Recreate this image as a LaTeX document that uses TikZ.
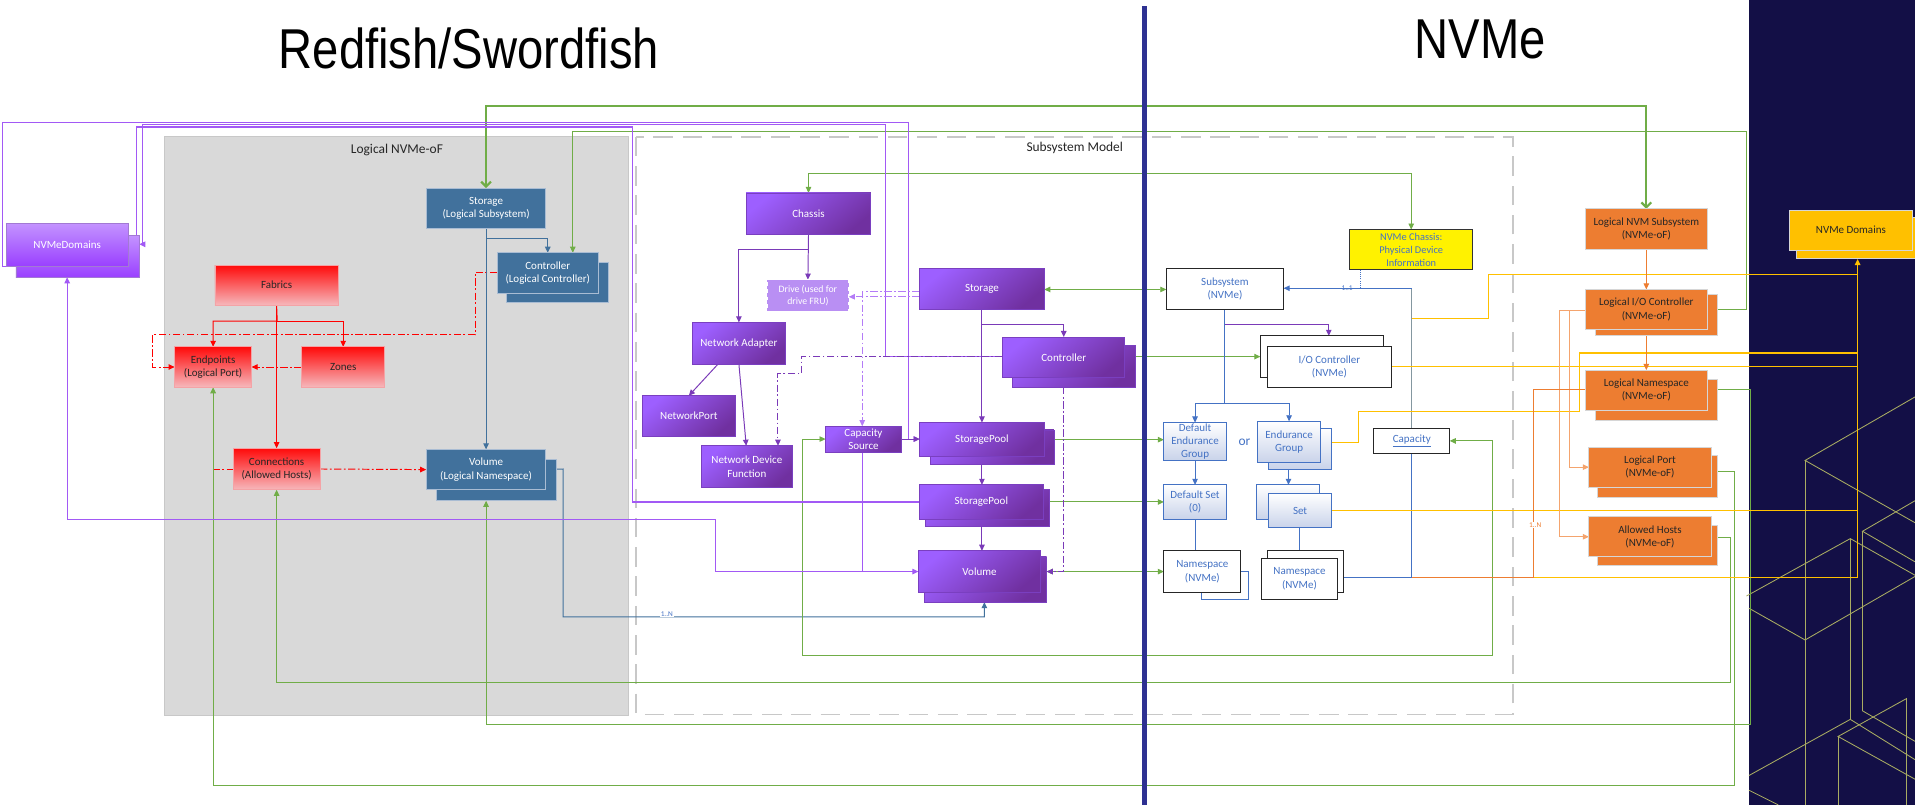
\documentclass[tikz,border=0pt]{standalone}
\usepackage{fontspec}
\setmainfont{Carlito}
\newfontfamily\titlefont{Liberation Sans}
\usetikzlibrary{arrows.meta,calc}
\definecolor{rbblue}{HTML}{41719C}
\definecolor{rbedge}{HTML}{A9BCD3}
\definecolor{redtop}{HTML}{FF0A0A}
\definecolor{redbot}{HTML}{F6B8BC}
\definecolor{rededge}{HTML}{F4A3A6}
\definecolor{plight}{HTML}{9D5FFF}
\definecolor{pdark}{HTML}{7030A0}
\definecolor{pedge}{HTML}{7A3FC0}
\definecolor{ndlight}{HTML}{C393FF}
\definecolor{nddark}{HTML}{9A40FF}
\definecolor{drivef}{HTML}{B98FF3}
\definecolor{nvtext}{HTML}{4472C4}
\definecolor{lbfill}{HTML}{C9D3EA}
\definecolor{orng}{HTML}{ED7D31}
\definecolor{oredge}{HTML}{D6D6D6}
\definecolor{gold}{HTML}{FFC000}
\definecolor{grn}{HTML}{70AD47}
\definecolor{navy}{HTML}{130F46}
\definecolor{divider}{HTML}{2E3192}
\definecolor{wire}{HTML}{A9AC62}
\definecolor{pbright}{HTML}{A259F5}
\definecolor{plline}{HTML}{7A3AB8}
\definecolor{pldd}{HTML}{B47CF7}
\definecolor{orlight}{HTML}{F4A46E}
\definecolor{grayl}{HTML}{8497A0}
\definecolor{panelgray}{HTML}{D9D9D9}
\definecolor{dashgray}{HTML}{C8C8C8}
\pgfdeclarelayer{bg}
\pgfdeclarelayer{lines}
\pgfsetlayers{bg,lines,main}
% #1 style, #2 name, #3 x1, #4 y1, #5 x2, #6 y2, #7 text
\newcommand\bx[7]{\node[#1, minimum width={(#5-#3)*1pt}, minimum height={(#6-#4)*1pt}] (#2) at ({(#3+#5)/2},{(#4+#6)/2}) {#7};}
\tikzset{
  box/.style={inner sep=0pt, outer sep=0pt, align=center, font=\fontsize{9}{11}\selectfont},
  bluebox/.style={box, fill=rbblue, draw=rbedge, line width=0.8pt, text=white},
  redbox/.style={box, draw=rededge, line width=0.6pt, top color=redtop, bottom color=redbot, text=black!85},
  purplebox/.style={box, draw=pedge, line width=0.6pt, top color=plight, bottom color=pdark, shading angle=40, text=white},
  ndbox/.style={box, draw=pedge!70, line width=0.6pt, top color=ndlight, bottom color=nddark, text=white},
  drivebox/.style={box, fill=drivef, draw=white, dashed, line width=0.6pt, text=white, font=\fontsize{8}{10}\selectfont},
  nvbox/.style={box, fill=white, draw=black!85, line width=0.8pt, text=nvtext},
  nvback/.style={box, fill=white, draw=nvtext, line width=0.8pt},
  lbbox/.style={box, draw=nvtext, line width=0.8pt, top color=white, bottom color=lbfill, text=nvtext},
  orbox/.style={box, fill=orng, draw=oredge, line width=0.8pt, text=black!85},
  goldbox/.style={box, fill=gold, draw=oredge, line width=0.8pt, text=black!85},
  ylbox/.style={box, fill=yellow, draw=black!80, line width=0.8pt, text=nvtext, font=\fontsize{8.5}{10.5}\selectfont},
  lab/.style={inner sep=0.5pt, font=\fontsize{6}{7}\selectfont},
  dd/.style={dash pattern=on 6pt off 2pt on 1.5pt off 2pt},
  cRed/.style={draw=red, line width=0.8pt},
  cBlue/.style={draw=rbblue, line width=0.8pt},
  cNv/.style={draw=nvtext, line width=0.8pt},
  cGrn/.style={draw=grn, line width=0.8pt},
  cGrnThick/.style={draw=grn, line width=1.8pt},
  cPB/.style={draw=pbright, line width=0.9pt},
  cPL/.style={draw=plline, line width=0.8pt},
  cPLite/.style={draw=pldd, line width=0.8pt},
  cGold/.style={draw=gold, line width=0.9pt},
  cOr/.style={draw=orng, line width=0.8pt},
  cOrL/.style={draw=orlight, line width=0.8pt},
  cGray/.style={draw=grayl, line width=0.9pt},
  cWire/.style={draw=wire, line width=0.7pt},
  barbs/.style={{Straight Barb[length=4pt,width=8pt]}-{Straight Barb[length=4pt,width=8pt]}}
}
\begin{document}
\begin{tikzpicture}[x=1pt,y=-1pt,>={Triangle[length=5pt,width=4.5pt]}]
\useasboundingbox (0,0) rectangle (1568,659);
\begin{pgfonlayer}{bg}
  \fill[white] (0,0) rectangle (1568,659);
  \fill[navy] (1432,0) rectangle (1568,659);
  \filldraw[fill=panelgray, draw=dashgray, line width=0.8pt] (135,112) rectangle (515,586);
  \draw[dashgray, line width=1.4pt, dash pattern=on 16pt off 8pt] (521,112) rectangle (1239,585);
  % wireframe cubes
  \draw[cWire] (1568,325) -- (1478,377) -- (1568,428);
  \draw[cWire] (1478,377) -- (1478,659);
  \draw[cWire] (1430,488) -- (1515,441) -- (1568,471);
  \draw[cWire] (1515,441) -- (1515,589);
  \draw[cWire] (1432,498) -- (1478,524) -- (1568,472);
  \draw[cWire] (1568,410) -- (1525,435) -- (1568,460);
  \draw[cWire] (1525,435) -- (1525,582) -- (1568,607);
  \draw[cWire] (1432,635) -- (1515,589) -- (1568,622);
  \draw[cWire] (1568,638) -- (1505,603) -- (1561,572) -- (1561,659);
  \draw[cWire] (1505,603) -- (1505,659);
  \draw[cWire] (1432,647) -- (1456,659);
\end{pgfonlayer}

% titles and labels
\node[anchor=base, inner sep=0] (t1) at (384,56) {\titlefont\fontsize{46}{50}\selectfont\scalebox{0.84}[1]{Redfish/Swordfish}};
\node[anchor=base, inner sep=0] (t2) at (1212,48) {\titlefont\fontsize{46}{50}\selectfont\scalebox{0.84}[1]{NVMe}};
\node[font=\fontsize{11}{13}\selectfont, text=black!85] (lnvmeof) at (325,123) {Logical NVMe-oF};
\node[font=\fontsize{11}{13}\selectfont, text=black!85] (lsubm) at (880,121) {Subsystem Model};

% ---------- Redfish side nodes ----------
\bx{ndbox}{ndomB}{13}{193}{114}{227}{}
\bx{ndbox}{ndom}{5}{183}{105}{218}{NVMeDomains}
\bx{bluebox}{rstor}{349}{154}{447}{187}{Storage\\(Logical Subsystem)}
\bx{bluebox}{rctrlB}{415}{215}{498}{248}{}
\bx{bluebox}{rctrl}{407}{207}{490}{240}{Controller\\(Logical Controller)}
\bx{bluebox}{rvolB}{357}{376}{456}{410}{}
\bx{bluebox}{rvol}{349}{368}{447}{401}{Volume\\(Logical Namespace)}
\bx{redbox}{fabrics}{176}{217}{277}{250}{Fabrics}
\bx{redbox}{endpoints}{143}{284}{206}{317}{Endpoints\\(Logical Port)}
\bx{redbox}{zones}{247}{284}{315}{317}{Zones}
\bx{redbox}{connections}{191}{367}{262}{401}{Connections\\(Allowed Hosts)}

% ---------- Subsystem model nodes ----------
\bx{purplebox}{chassis}{611}{158}{713}{192}{Chassis}
\bx{drivebox}{drive}{628}{229}{695}{255}{Drive (used for\\drive FRU)}
\bx{purplebox}{pstor}{753}{220}{855}{253}{Storage}
\bx{purplebox}{netad}{567}{264}{643}{298}{Network Adapter}
\bx{purplebox}{pctrlB}{829}{283}{930}{317}{}
\bx{purplebox}{pctrl}{821}{276}{921}{309}{Controller}
\bx{purplebox}{netport}{526}{324}{602}{357}{NetworkPort}
\bx{purplebox}{ndf}{574}{365}{649}{399}{Network Device\\Function}
\bx{purplebox}{capsrc}{676}{349}{738}{370}{Capacity\\Source}
\bx{purplebox}{spool1B}{762}{352}{863}{380}{}
\bx{purplebox}{spool1}{753}{346}{855}{374}{StoragePool}
\bx{purplebox}{spool2B}{758}{401}{859}{431}{}
\bx{purplebox}{spool2}{753}{397}{854}{425}{StoragePool}
\bx{purplebox}{pvolB}{757}{456}{857}{493}{}
\bx{purplebox}{pvol}{752}{451}{852}{485}{Volume}

% ---------- NVMe nodes ----------
\bx{ylbox}{nvchassis}{1105}{188}{1206}{221}{NVMe Chassis:\\Physical Device\\Information}
\bx{nvbox}{subsys}{955}{220}{1051}{253}{Subsystem\\(NVMe)}
\bx{nvbox}{iocB}{1032}{275}{1133}{309}{}
\bx{nvbox}{ioc}{1038}{284}{1139}{317}{I/O Controller\\(NVMe)}
\bx{lbbox}{deg}{953}{346}{1004}{377}{Default\\Endurance\\Group}
\node[text=nvtext, font=\fontsize{11}{13}\selectfont] (ortxt) at (1019,362) {or};
\bx{lbbox}{egB}{1039}{351}{1090}{384}{}
\bx{lbbox}{eg}{1030}{345}{1081}{379}{Endurance\\Group}
\bx{lbbox}{dset}{953}{397}{1004}{425}{Default Set\\(0)}
\bx{lbbox}{setB}{1029}{397}{1080}{425}{}
\bx{lbbox}{set}{1039}{404}{1090}{432}{Set}
\bx{nvback}{nslB}{984}{468}{1022}{491}{}
\bx{nvbox}{nsl}{953}{451}{1016}{485}{Namespace\\(NVMe)}
\bx{nvbox}{nsrB}{1038}{451}{1100}{485}{}
\bx{nvbox}{nsr}{1033}{457}{1095}{491}{Namespace\\(NVMe)}
\bx{nvbox}{capacity}{1125}{351}{1187}{371}{\underline{Capacity}}

% ---------- NVMe-oF nodes ----------
\bx{orbox}{lnvm}{1298}{171}{1398}{204}{Logical NVM Subsystem\\(NVMe-oF)}
\bx{orbox}{lioB}{1306}{241}{1406}{275}{}
\bx{orbox}{lio}{1298}{237}{1398}{270}{Logical I/O Controller\\(NVMe-oF)}
\bx{orbox}{lnsB}{1306}{311}{1406}{344}{}
\bx{orbox}{lns}{1298}{303}{1398}{336}{Logical Namespace\\(NVMe-oF)}
\bx{orbox}{lportB}{1308}{373}{1406}{407}{}
\bx{orbox}{lport}{1301}{366}{1401}{399}{Logical Port\\(NVMe-oF)}
\bx{orbox}{ahB}{1308}{430}{1406}{463}{}
\bx{orbox}{ah}{1301}{423}{1401}{456}{Allowed Hosts\\(NVMe-oF)}
\bx{goldbox}{ndomsB}{1471}{178}{1574}{212}{}
\bx{goldbox}{ndoms}{1465}{172}{1566}{205}{NVMe Domains}

\begin{pgfonlayer}{lines}
  % red
  \draw[cRed,->] (fabrics.south) -- (connections.north);
  \draw[cRed,->] (fabrics.south) -- (227,263) -| (endpoints.north);
  \draw[cRed,->] (227,263) -| (zones.north);
  \draw[cRed,dd,->] (zones.west) -- (endpoints.east);
  \draw[cRed,dd,->] (rctrl.west |- 0,223) -- (389,223) -- (389,274) -- (125,274) -- (125,300.5) -- (endpoints.west);
  \draw[cRed,dd,->] (connections.east) -- (rvol.west);
  \draw[cRed,dd] (174,384) -- (connections.west);
  % blue (redfish)
  \draw[cBlue,->] (rstor.south) -- (rvol.north);
  \draw[cBlue,->] (rstor.south) -- (398,195) -| (rctrl.north);
  \draw[cBlue,->] (rvol.east) -- (461,384) -- (461,505) -- (806,505) -- (pvolB.south -| 806,0);
  \node[lab, text=nvtext, fill=white] (l1n) at (546,503) {1..N};
  % green
  \draw[cGrnThick,barbs] (rstor.north) -- (398,87) -| (lnvm.north);
  \draw[cGrn,->] (lioB.east |- 0,253) -- (1430,253) -- (1430,108) -- (469,108) -- (rctrl.north -| 469,0);
  \draw[cGrn,<->] (chassis.north) -- (662,142) -| (nvchassis.north);
  \draw[cGrn,<->] (pstor.east |- 0,237) -- (subsys.west |- 0,237);
  \draw[cGrn,<->] (pctrl.east |- 0,292) -- (iocB.west |- 0,292);
  \draw[cGrn,<->] (spool1.east |- 0,360) -- (deg.west |- 0,360);
  \draw[cGrn,<->] (spool2.east |- 0,411) -- (dset.west |- 0,411);
  \draw[cGrn,<->] (pvolB.east |- 0,468) -- (nsl.west |- 0,468);
  \draw[cGrn,<->] (capsrc.west) -- (657,359.5) -- (657,537) -- (1222,537) |- (capacity.east);
  \draw[cGrn,->] (ahB.east |- 0,440) -- (1417,440) -- (1417,559) -| (connections.south);
  \draw[cGrn,->] (lnsB.east |- 0,319) -- (1433,319) -- (1433,593) -| (rvolB.south -| rvol.south);
  \draw[cGrn,->] (lportB.east |- 0,386) -- (1420,386) -- (1420,643) -| (endpoints.south);
  % bright purple from NVMeDomains
  \draw[cPB,->] (ndom.south west) -- (2,218) -- (2,100) -- (744,100) -- (744,359.5) -- (spool1.west |- 0,359.5);
  \draw[cPB,<-] (ndomB.east |- 0,200) -- (117,200) -- (117,102) -- (725,102) -- (725,292) -- (pctrl.west |- 0,292);
  \draw[cPB] (ndomB.east |- 0,200) -- (112,200) -- (112,104) -- (518,104) -- (518,411) -- (spool2.west |- 0,411);
  \draw[cPB,<->] (ndomB.south -| 55,0) -- (55,425) -- (586,425) -- (586,468) -- (pvol.west |- 0,468);
  % subsystem model purple
  \draw[cPL,->] (chassis.south) -- (drive.north);
  \draw[cPL,->] (chassis.south) -- (662,204) -| (netad.north);
  \draw[cPL,->] (netad.south -| 588,0) -- (netport.north -| 564,0);
  \draw[cPL,->] (netad.south) -- (ndf.north -| 611,0);
  \draw[cPL,->] (pstor.south) -- (spool1.north);
  \draw[cPL,->] (pstor.south) -- (804,266) -| (pctrl.north);
  \draw[cPL,->] (spool1B.south -| 804,0) -- (spool2.north -| 804,0);
  \draw[cPL,->] (spool2B.south -| 804,0) -- (pvol.north -| 804,0);
  \draw[cPL,->] (capsrc.east) -- (spool1.west |- capsrc.east);
  \draw[cPB] (capsrc.south -| 706,0) -- (706,468);
  \draw[cPL,dd,->] (pctrl.west |- 0,292) -- (656,292) -- (656,306) -- (637,306) -- (ndf.north -| 637,0);
  \draw[cPL,dd,->] (pctrlB.south -| 871,0) -- (871,468) -- (pvolB.east |- 0,468);
  \draw[cPLite,dd,->] (pstor.west |- 0,243) -- (drive.east |- 0,243);
  \draw[cPLite,dd,->] (pstor.west |- 0,239) -- (706,239) -- (capsrc.north -| 706,0);
  % NVMe side
  \draw[cGray] (capacity.north -| 1156,0) -- (1156,236);
  \draw[cNv,->] (1156,236) -- (subsys.east |- 0,236);
  \node[lab, text=nvtext] (l11) at (1103,236) {1..1};
  \draw[cNv,densely dotted,->] (1114,236) -- (1114,204) -- (nvchassis.west |- 0,204);
  \draw[cNv,->] (capacity.south -| 1156,0) -- (1156,473) -- (nsr.east |- 0,473);
  \draw[cPL,->] (subsys.south) -- (1003,266) -- (1088,266) -- (iocB.north -| 1088,0);
  \draw[cNv,->] (subsys.south) -- (1003,330) -| (deg.north);
  \draw[cNv,->] (1003,330) -| (eg.north);
  \draw[cNv,->] (deg.south) -- (dset.north);
  \draw[cNv,->] (egB.south -| 1055,0) -- (setB.north -| 1055,0);
  \draw[cNv,-{Bar[width=5pt]}] (dset.south) -- (nsl.north -| dset.south);
  \draw[cNv] (set.south -| 1064,0) -- (nsrB.north -| 1064,0);
  % gold lines to NVMe Domains
  \draw[cGold] (1156,261) -- (1219,261) -- (1219,225) -- (1521,225);
  \draw[cGold,->] (1521,473) -- (ndomsB.south -| 1521,0);
  \draw[cGold] (ioc.east |- 0,300) -- (1521,300);
  \draw[cGold] (egB.east |- 0,362) -- (1112,362) -- (1112,337) -- (1293,337) -- (1293,289) -- (1521,289);
  \draw[cGold] (set.east |- 0,418) -- (1521,418);
  \draw[cGold] (1256,473) -- (1521,473);
  % orange
  \draw[cOr] (1156,473) -- (1256,473);
  \draw[cOr,->] (lnvm.south) -- (lio.north);
  \draw[cOr,->] (lioB.south -| lio.south) -- (lns.north);
  \draw[cOrL,->] (lio.west |- 0,254) -- (1285,254) |- (lport.west);
  \draw[cOrL,->] (1285,254) -- (1277,254) |- (ah.west);
  \draw[cOr] (lns.west |- 0,319) -- (1256,319) -- (1256,473);
  \node[lab, text=orng, fill=white] (l1n2) at (1257,430) {1..N};
\end{pgfonlayer}

% divider
\draw[divider, line width=4pt] (937,5) -- (937,659);
\end{tikzpicture}
\end{document}
